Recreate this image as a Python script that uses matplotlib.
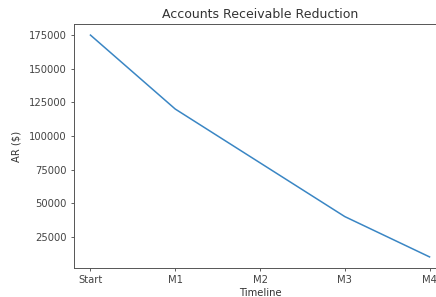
import matplotlib
matplotlib.use("Agg")
import matplotlib.pyplot as plt

# data
months = ["Start", "M1", "M2", "M3", "M4"]
ar_values = [175000, 120000, 80000, 40000, 10000]

plt.rcParams['font.size'] = 7.2
plt.rcParams['text.color'] = '#333333'
plt.rcParams['axes.labelcolor'] = '#333333'
plt.rcParams['xtick.color'] = '#333333'
plt.rcParams['ytick.color'] = '#333333'

fig = plt.figure(figsize=(4.36, 2.97), dpi=100)
# axes run past the right edge, like the cropped original
ax = fig.add_axes([73.5 / 436, 29 / 297, 373 / 436, 244 / 297])
ax.plot(months, ar_values, color='#3a86c4', linewidth=1.1)
ax.set_title("Accounts Receivable Reduction", fontsize=9, pad=4.5)
ax.set_xlabel("Timeline", labelpad=2)
ax.set_ylabel("AR ($)", labelpad=5)
ax.tick_params(length=2.5, width=0.6, pad=2.5, colors='#444444')
for s in ax.spines.values():
    s.set_linewidth(0.7)
    s.set_color('#555555')

fig.savefig("out.png", dpi=100)
